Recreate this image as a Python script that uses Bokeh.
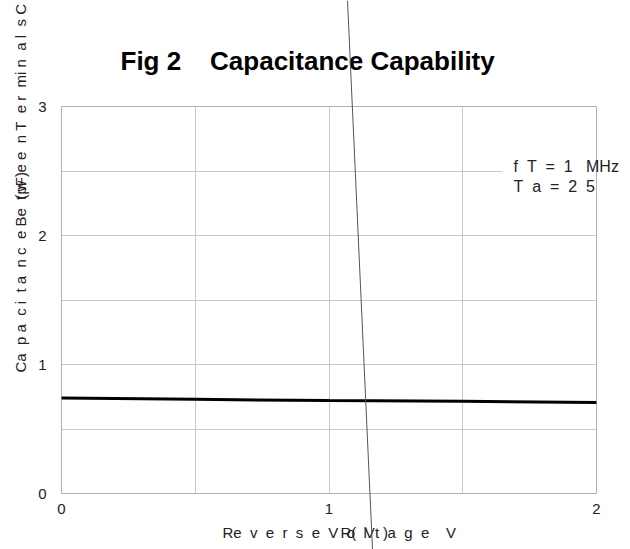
import math
from bokeh.plotting import figure
from bokeh.models import (Range1d, FixedTicker, Label, BoxAnnotation, Arrow)
from bokeh.embed import file_html
from bokeh.resources import INLINE

# data
reverse_voltage = [0.0, 0.5, 1.0, 1.5, 2.0]
capacitance = [0.74, 0.73, 0.72, 0.715, 0.705]
x_ticks = [0, 1, 2]
x_minor = [0.5, 1.5]
y_ticks = [0, 1, 2, 3]
y_minor = [0.5, 1.5, 2.5]
x_lim = (0, 2)
y_lim = (0, 3)

W, H = 630, 549
# pixel box of the plotting area inside the canvas
PL, PR, PT, PB = 61, 596, 106, 493
FONT = "Liberation Sans"
NB = "\u00a0"


def spaced(s):
    return s.replace(" ", NB)


sx = (PR - PL) / (x_lim[1] - x_lim[0])
sy = (PB - PT) / (y_lim[1] - y_lim[0])
x_range = Range1d(x_lim[0] - PL / sx, x_lim[1] + (W - PR) / sx)
y_range = Range1d(y_lim[0] - (H - PB) / sy, y_lim[1] + PT / sy)

p = figure(width=W, height=H, output_backend="svg", toolbar_location=None,
           x_range=x_range, y_range=y_range,
           min_border_left=0, min_border_right=0, min_border_top=0, min_border_bottom=0)
p.title.visible = False
p.background_fill_color = "white"
p.border_fill_color = "white"
p.outline_line_color = None

for ax, ticks, minor, lim in ((p.xaxis[0], x_ticks, x_minor, x_lim), (p.yaxis[0], y_ticks, y_minor, y_lim)):
    ax.ticker = FixedTicker(ticks=ticks, minor_ticks=minor)
    ax.fixed_location = 0
    ax.bounds = lim
    ax.axis_line_color = None
    ax.major_tick_line_color = None
    ax.minor_tick_line_color = None
    ax.major_label_text_font = FONT
    ax.major_label_text_font_size = "15px"
    ax.major_label_text_color = "#222222"
p.xaxis.major_label_standoff = 4
p.yaxis.major_label_standoff = 9

p.xgrid[0].ticker = FixedTicker(ticks=x_ticks, minor_ticks=x_minor)
p.ygrid[0].ticker = FixedTicker(ticks=y_ticks, minor_ticks=y_minor)
p.xgrid[0].bounds = x_lim
p.xgrid[0].cross_bounds = y_lim
p.ygrid[0].bounds = y_lim
p.ygrid[0].cross_bounds = x_lim
for g in (p.xgrid[0], p.ygrid[0]):
    g.grid_line_color = "#c8c8c8"
    g.minor_grid_line_color = "#c8c8c8"
    g.grid_line_width = 1

p.line(reverse_voltage, capacitance, line_color="black", line_width=3)

# annotation box (white background over the grid)
p.add_layout(BoxAnnotation(left=1.649, right=1.995, bottom=2.3, top=2.7,
                           fill_color="white", fill_alpha=1.0, line_color=None, level="underlay"))
# plot area border
p.add_layout(BoxAnnotation(left=x_lim[0], right=x_lim[1], bottom=y_lim[0], top=y_lim[1],
                           fill_alpha=0, line_color="#808080", line_width=1))

p.add_layout(Label(x=1.69, y=2.535, text=spaced("f  T  =  1   MHz"), text_font=FONT,
                   text_font_size="16px", text_color="#222222", text_baseline="middle"))
p.add_layout(Label(x=1.69, y=2.38, text=spaced("T  a  =  2  5"), text_font=FONT,
                   text_font_size="16px", text_color="#222222", text_baseline="middle"))

# title
p.add_layout(Label(x=120, y=60, x_units="canvas", y_units="canvas",
                   text=spaced("Fig 2    Capacitance Capability"), text_font=FONT,
                   text_font_size="26px", text_font_style="bold", text_color="black",
                   text_baseline="alphabetic"))

# x axis title (with overlapping unit text)
p.add_layout(Label(x=222, y=532, x_units="canvas", y_units="canvas",
                   text=spaced("Re  v  e  r  s  e  V  o  l  t  a  g  e    V"), text_font=FONT,
                   text_font_size="15px", text_color="#222222", text_baseline="alphabetic"))
p.add_layout(Label(x=340, y=532, x_units="canvas", y_units="canvas",
                   text=spaced("R(  V  )"), text_font=FONT,
                   text_font_size="15px", text_color="#222222", text_baseline="alphabetic"))

# y axis title (rotated, with overlapping unit text)
parts = ["Ca", "p", "a", "c", "i", "t", "a", "n", "c", "e", "Be", "t", "w", "e", "e", "n",
         "T", "e", "r", "mi", "n", "a", "l", "s", "C"]
ylab = parts[0]
for i, s in enumerate(parts[1:]):
    ylab += (NB * 2 if i % 2 == 0 else NB) + s
p.add_layout(Label(x=20, y=372, x_units="canvas", y_units="canvas", angle=math.pi / 2,
                   text=ylab, text_font=FONT, text_font_size="15px", text_color="#222222",
                   text_baseline="middle", text_align="left"))
p.add_layout(Label(x=20, y=199, x_units="canvas", y_units="canvas", angle=math.pi / 2,
                   text="(pF)", text_font=FONT, text_font_size="15px", text_color="#222222",
                   text_baseline="middle", text_align="left"))

# stray diagonal line
p.add_layout(Arrow(end=None, x_start=347, y_start=0, x_end=372, y_end=549,
                   start_units="canvas", end_units="canvas",
                   line_color="#555555", line_width=1))

open("out.html", "w").write(file_html(p, INLINE))
